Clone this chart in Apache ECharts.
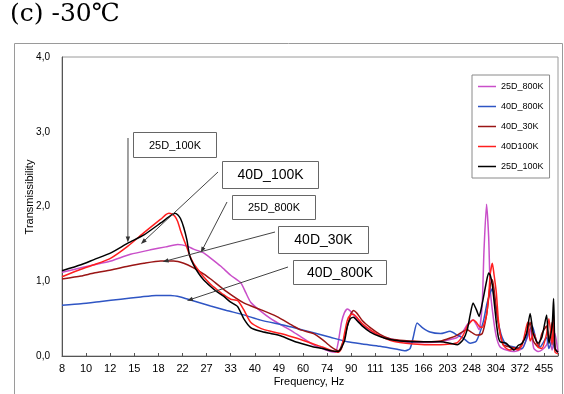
<!DOCTYPE html>
<html>
<head>
<meta charset="utf-8">
<script src="https://cdn.jsdelivr.net/npm/echarts@6/dist/echarts.min.js"></script>
<style>
  html, body { margin: 0; padding: 0; background: #fff; }
  #chart { width: 564px; height: 394px; }
</style>
</head>
<body>
<div id="chart"></div>
<script>
// Frequency tick labels (1/3-octave style spacing, drawn evenly on a log scale)
const freqTicks = [8, 10, 12, 15, 18, 22, 27, 33, 40, 49, 60, 74, 90, 111, 135, 166, 203, 248, 304, 372, 455];
const yTicks = [0, 1, 2, 3, 4];

// Transmissibility curves: [frequency Hz, transmissibility]
const s25D_800K = [
  [8,1.12],[9.38,1.18],[11.09,1.24],[12.05,1.27],[14.2,1.36],[16.8,1.42],[19.1,1.46],[21.1,1.49],[22.8,1.47],
  [24.1,1.43],[26.2,1.38],[27.8,1.31],[30.3,1.20],[32.9,1.08],[35.8,0.98],[37.3,0.85],[38.9,0.72],[42.3,0.60],
  [46.0,0.50],[50.0,0.42],[55.7,0.32],[59.1,0.26],[65.9,0.15],[71.0,0.10],[75.9,0.06],[79.2,0.05],[81.2,0.20],
  [83.3,0.45],[85.4,0.58],[87.5,0.63],[89.8,0.60],[92.1,0.55],[94.5,0.50],[99.3,0.42],[106,0.34],[115,0.27],
  [125,0.23],[136,0.20],[152,0.18],[171,0.18],[191,0.19],[207,0.22],[220,0.25],[231,0.33],[239,0.42],[245,0.46],
  [251,0.48],[258,0.42],[264,0.35],[271,0.70],[275,1.40],[281,2.03],[286,1.60],[290,0.89],[297,0.53],[305,0.26],
  [315,0.12],[332,0.08],[354,0.06],[379,0.10],[393,0.22],[405,0.35],[418,0.10],[433,0.06],[447,0.08],[465,0.15],
  [474,0.25],[487,0.08],[499,0.30],[511,0.05]
];
const s40D_800K = [
  [8,0.68],[9.38,0.70],[11.09,0.73],[13.1,0.76],[15.5,0.79],[17.6,0.81],[19.9,0.81],[21.6,0.79],[23.5,0.75],
  [27.8,0.67],[31.8,0.61],[36.7,0.55],[42.3,0.48],[50.0,0.42],[55.7,0.38],[65.9,0.31],[75.9,0.25],[87.5,0.19],
  [99.3,0.16],[115,0.13],[133,0.09],[142,0.07],[148,0.10],[152,0.25],[157,0.44],[164,0.38],[175,0.32],[191,0.30],
  [207,0.33],[220,0.28],[231,0.24],[245,0.17],[258,0.20],[273,0.45],[282,0.70],[290,0.85],[295,0.90],[302,0.70],
  [310,0.45],[320,0.25],[332,0.15],[354,0.12],[379,0.10],[398,0.30],[412,0.40],[427,0.20],[440,0.12],[465,0.25],
  [474,0.10],[487,0.20],[499,0.08],[511,0.05]
];
const s40D_30K = [
  [8,1.03],[9.38,1.07],[10.46,1.11],[12.05,1.15],[13.9,1.20],[15.9,1.24],[18.3,1.27],[20.4,1.27],[22.2,1.24],
  [24.1,1.18],[26.2,1.10],[27.8,1.03],[31.8,0.86],[36.7,0.71],[42.3,0.62],[48.3,0.53],[55.7,0.40],[59.1,0.35],
  [65.9,0.30],[71.0,0.22],[75.9,0.13],[81.2,0.07],[85.4,0.25],[89.8,0.55],[92.1,0.61],[94.5,0.58],[99.3,0.47],
  [106,0.38],[115,0.29],[125,0.23],[136,0.21],[152,0.20],[171,0.19],[191,0.20],[207,0.24],[220,0.28],[231,0.33],
  [239,0.35],[245,0.33],[258,0.28],[271,0.30],[281,0.55],[290,0.95],[295,1.02],[299,0.90],[307,0.55],[315,0.30],
  [323,0.15],[342,0.12],[366,0.10],[393,0.30],[405,0.45],[416,0.20],[433,0.12],[447,0.30],[465,0.40],[474,0.20],
  [487,0.45],[499,0.10],[511,0.05]
];
const s40D100K = [
  [8,1.06],[9.38,1.16],[10.46,1.22],[12.05,1.31],[13.9,1.47],[15.9,1.65],[18.3,1.83],[19.1,1.89],[19.6,1.91],
  [20.1,1.90],[20.6,1.87],[21.1,1.80],[21.6,1.68],[22.2,1.56],[22.8,1.45],[23.3,1.35],[24.1,1.24],[25.2,1.14],
  [26.2,1.06],[27.8,0.96],[29.3,0.89],[31.0,0.82],[32.9,0.76],[34.9,0.74],[36.7,0.62],[38.9,0.45],[42.3,0.37],
  [46.0,0.33],[50.0,0.30],[55.7,0.25],[59.1,0.22],[65.9,0.16],[71.0,0.12],[75.9,0.08],[81.2,0.05],[83.3,0.10],
  [85.4,0.30],[87.5,0.48],[89.8,0.55],[92.1,0.56],[94.5,0.52],[99.3,0.43],[106,0.35],[115,0.27],[125,0.21],
  [136,0.18],[152,0.16],[171,0.15],[191,0.15],[207,0.16],[220,0.18],[231,0.28],[239,0.40],[245,0.45],[251,0.48],
  [258,0.45],[264,0.40],[271,0.38],[281,0.55],[286,0.80],[290,1.10],[295,1.24],[299,1.10],[305,0.85],[310,0.50],
  [315,0.30],[323,0.15],[332,0.10],[342,0.08],[354,0.10],[366,0.08],[379,0.15],[393,0.40],[398,0.45],[405,0.20],
  [418,0.30],[433,0.12],[447,0.10],[465,0.30],[474,0.50],[487,0.15],[493,0.55],[499,0.05],[511,0.03]
];
const s25D_100K = [
  [8,1.14],[9.38,1.22],[10.46,1.29],[12.05,1.38],[13.9,1.51],[15.9,1.62],[18.3,1.78],[19.6,1.86],[20.6,1.91],
  [21.1,1.89],[21.6,1.84],[22.2,1.72],[22.8,1.55],[23.3,1.35],[24.1,1.22],[25.2,1.10],[26.2,1.02],[27.8,0.93],
  [29.3,0.86],[31.0,0.80],[32.9,0.72],[34.9,0.66],[36.7,0.50],[38.9,0.38],[42.3,0.33],[46.0,0.30],[50.0,0.27],
  [55.7,0.20],[59.1,0.17],[65.9,0.12],[71.0,0.10],[75.9,0.07],[81.2,0.06],[85.4,0.20],[87.5,0.40],[89.8,0.50],
  [92.1,0.52],[94.5,0.48],[99.3,0.40],[106,0.32],[115,0.26],[125,0.22],[136,0.20],[152,0.19],[171,0.19],[191,0.19],
  [207,0.17],[220,0.15],[231,0.22],[239,0.35],[245,0.55],[251,0.71],[258,0.62],[264,0.53],[271,0.70],[281,1.00],
  [286,1.11],[290,1.08],[295,0.95],[299,0.75],[305,0.45],[310,0.26],[315,0.19],[323,0.18],[332,0.17],[342,0.12],
  [354,0.08],[366,0.14],[379,0.17],[393,0.30],[405,0.57],[416,0.30],[433,0.17],[447,0.25],[465,0.55],[474,0.17],
  [487,0.40],[493,0.77],[499,0.10],[511,0.05]
];

const seriesDefs = [
  { name: '25D_800K', data: s25D_800K, color: '#c94fc9' },
  { name: '40D_800K', data: s40D_800K, color: '#2f55c4' },
  { name: '40D_30K',  data: s40D_30K,  color: '#9a1515' },
  { name: '40D100K',  data: s40D100K,  color: '#ff1f1f' },
  { name: '25D_100K', data: s25D_100K, color: '#000000' }
];

// Callout boxes: box [left, top, width, height] in px, arrow start in px, arrow tip as [Hz, value]
const callouts = [
  { text: '25D_100K', box: [133, 132, 83, 25], size: 11, from: [128, 138], to: [13.9, 1.52] },
  { text: '40D_100K', box: [222, 161, 96, 27], size: 14, from: [218, 172], to: [15.5, 1.50] },
  { text: '25D_800K', box: [232, 195, 83, 24], size: 11, from: [227, 202], to: [25.6, 1.38] },
  { text: '40D_30K',  box: [278, 226, 90, 27], size: 14, from: [275, 232], to: [18.6, 1.26] },
  { text: '40D_800K', box: [293, 260, 93, 24], size: 14, from: [288, 267], to: [22.8, 0.74] }
];

// Log-frequency position: tick index 0 at 8 Hz, 20 at 455 Hz
const F0 = 8, F1 = 455, NSTEP = 20;
const toPos = f => Math.log(f / F0) / Math.log(F1 / F0) * NSTEP;

const chart = echarts.init(document.getElementById('chart'), null, { renderer: 'canvas' });
const sansFont = '"Liberation Sans", Arial, sans-serif';

chart.setOption({
  animation: false,
  backgroundColor: '#fff',
  grid: { left: 62, top: 57, right: 6, bottom: 38, show: true, borderColor: '#9a9a9a', borderWidth: 1 },
  legend: {
    orient: 'vertical', left: 472, top: 75,
    padding: [7, 6, 7, 6], itemGap: 11, itemWidth: 18, itemHeight: 10,
    icon: 'path://M0,0 H18 V1.5 H0 Z', symbolKeepAspect: true,
    borderColor: '#8a8a8a', borderWidth: 1, backgroundColor: '#fff',
    textStyle: { fontSize: 9, color: '#000', fontFamily: sansFont },
    data: seriesDefs.map(s => s.name)
  },
  xAxis: {
    type: 'value', min: 0, max: 20.58, interval: 1,
    axisLine: { lineStyle: { color: '#555', width: 1 } },
    axisTick: { inside: true, length: 3, lineStyle: { color: '#555' } },
    axisLabel: {
      fontSize: 11, color: '#000', margin: 7, fontFamily: sansFont,
      formatter: v => { const i = Math.round(v); return (Math.abs(v - i) < 1e-6 && freqTicks[i] !== undefined) ? String(freqTicks[i]) : ''; }
    },
    splitLine: { show: false }
  },
  yAxis: {
    type: 'value', min: 0, max: 4, interval: 1,
    axisLine: { show: true, lineStyle: { color: '#555', width: 1 } },
    axisTick: { show: false },
    axisLabel: {
      fontSize: 10, color: '#000', margin: 12, fontFamily: sansFont,
      formatter: v => yTicks.includes(v) ? v.toFixed(1).replace('.', ',') : ''
    },
    splitLine: { show: false }
  },
  series: seriesDefs.map(s => ({
    name: s.name, type: 'line', symbol: 'none', smooth: 0.2,
    color: s.color,
    lineStyle: { color: s.color, width: 1.5 },
    data: s.data.map(p => [toPos(p[0]), p[1]])
  }))
});

// Frame, title, axis names and callouts
const gfx = [
  { type: 'rect', shape: { x: 14.5, y: 43.5, width: 548, height: 400 }, style: { fill: 'none', stroke: '#9a9a9a', lineWidth: 1 }, z: -1, silent: true },
  { type: 'text', left: 10, top: 2, style: { text: '(c) -30\u2103', font: '25px "DejaVu Serif", "Liberation Serif", serif', fill: '#000' } },
  { type: 'text', x: 30, y: 197, rotation: Math.PI / 2, style: { text: 'Transmissibility', font: '11px ' + sansFont, fill: '#000', align: 'center', verticalAlign: 'middle' } },
  { type: 'text', x: 309, y: 382, style: { text: 'Frequency, Hz', font: '11px ' + sansFont, fill: '#000', align: 'center', verticalAlign: 'middle' } }
];

callouts.forEach(c => {
  const tip = chart.convertToPixel({ gridIndex: 0 }, [toPos(c.to[0]), c.to[1]]);
  const [x0, y0] = c.from;
  const dx = tip[0] - x0, dy = tip[1] - y0;
  const len = Math.hypot(dx, dy);
  const ux = dx / len, uy = dy / len, nx = -uy, ny = ux;
  const ah = 6, aw = 2.2;
  gfx.push({ type: 'line', shape: { x1: x0, y1: y0, x2: tip[0] - ux * ah * 0.8, y2: tip[1] - uy * ah * 0.8 }, style: { stroke: '#444', lineWidth: 1 }, z: 10 });
  gfx.push({ type: 'polygon', shape: { points: [[tip[0], tip[1]], [tip[0] - ux * ah + nx * aw, tip[1] - uy * ah + ny * aw], [tip[0] - ux * ah - nx * aw, tip[1] - uy * ah - ny * aw]] }, style: { fill: '#333' }, z: 10 });
  const [bx, by, bw, bh] = c.box;
  gfx.push({ type: 'rect', shape: { x: bx + 0.5, y: by + 0.5, width: bw, height: bh }, style: { fill: '#fff', stroke: '#666', lineWidth: 1 }, z: 11 });
  gfx.push({ type: 'text', x: bx + bw / 2 + 0.5, y: by + bh / 2 + 1, style: { text: c.text, font: c.size + 'px ' + sansFont, fill: '#000', align: 'center', verticalAlign: 'middle' }, z: 12 });
});

chart.setOption({ graphic: gfx });
</script>
</body>
</html>
